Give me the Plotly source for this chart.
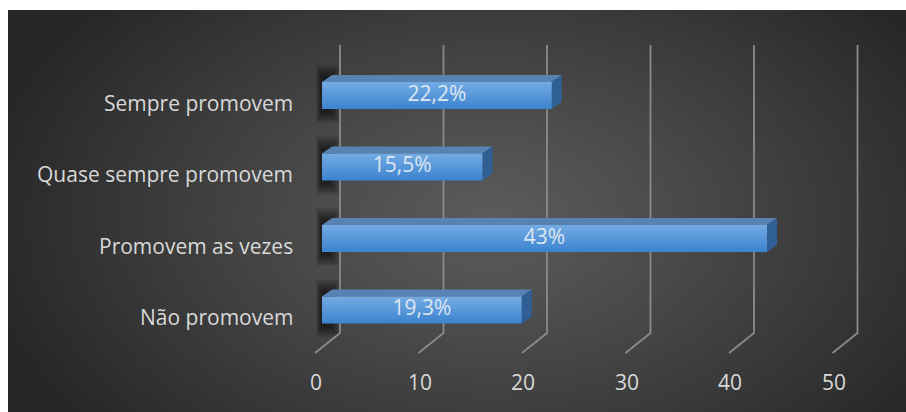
import base64
import struct
import zlib

import numpy as np
import plotly.graph_objects as go

# ---- data -----------------------------------------------------------------
categories = ["Não promovem", "Promovem as vezes", "Quase sempre promovem", "Sempre promovem"]
values = [19.3, 43, 15.5, 22.2]
value_labels = ["19,3%", "43%", "15,5%", "22,2%"]
tick_values = [0, 10, 20, 30, 40, 50]
tick_labels = ["0", "10", "20", "30", "40", "50"]

# ---- canvas geometry (pixels) ------------------------------------------------
W, H = 906, 412
BOX_X, BOX_Y = 8, 10             # top-left corner of the dark chart area
PX_PER_UNIT = 10.35              # horizontal scale of the value axis
ORIGIN_PX = 322                  # value 0 on the bars' front plane
ROW_PX = 71.5                    # distance between category rows
ROW0_PX = 310                    # centre of the first row

x_lo = -ORIGIN_PX / PX_PER_UNIT
x_hi = x_lo + W / PX_PER_UNIT
y_lo = -(H - ROW0_PX) / ROW_PX
y_hi = y_lo + H / ROW_PX


def ux(px):
    """horizontal pixel length -> value units"""
    return px / PX_PER_UNIT


def uy(px):
    """vertical pixel length (upwards) -> row units"""
    return px / ROW_PX


def yrow(py):
    """absolute pixel row -> y-axis coordinate"""
    return y_lo + (H - py) / ROW_PX


HALF = uy(13.5)          # half height of the bar front face
DEPTH_X, DEPTH_Y = ux(10), uy(7)

FONT = "Open Sans"
TEXT_COLOR = "#d9d9d9"
FONT_SIZE = 21


# ---- radial background ------------------------------------------------------
def gradient_png(w, h):
    yy, xx = np.mgrid[0:h, 0:w].astype(float)
    cx, cy = 0.537 * w, 0.52 * h
    d = np.sqrt(((xx - cx) / (0.58 * w)) ** 2 + ((yy - cy) / (0.82 * h)) ** 2)
    d = np.clip(d, 0, 1) ** 1.1
    inner = np.array([0x5B, 0x5B, 0x5B], float)
    outer = np.array([0x26, 0x26, 0x26], float)
    img = (inner + (outer - inner) * d[..., None]).round().astype(np.uint8)
    raw = b"".join(b"\x00" + img[r].tobytes() for r in range(h))

    def chunk(tag, data):
        body = tag + data
        return struct.pack(">I", len(data)) + body + struct.pack(">I", zlib.crc32(body) & 0xFFFFFFFF)

    png = (b"\x89PNG\r\n\x1a\n"
           + chunk(b"IHDR", struct.pack(">IIBBBBB", w, h, 8, 2, 0, 0, 0))
           + chunk(b"IDAT", zlib.compress(raw, 9))
           + chunk(b"IEND", b""))
    return "data:image/png;base64," + base64.b64encode(png).decode()


fig = go.Figure()
shapes = []

# soft shadows cast behind the bars on the wall (stacked translucent layers)
for i, v in enumerate(values):
    for k in range(12):
        grow = 12 - k
        shapes.append(dict(
            type="rect", xref="x", yref="y", layer="below",
            x0=-ux(grow * 0.5), x1=ux(8 + grow * 0.8),
            y0=i - HALF - uy(2 + grow * 1.0), y1=i + HALF + uy(4 + grow * 1.1),
            fillcolor="rgba(0,0,0,0.06)", line=dict(width=0),
        ))

# value gridlines: back wall and floor step
GRID_BACK = ux(18)
GRID_FRONT = -ux(7)
for t in tick_values:
    xb = t + GRID_BACK
    xf = t + GRID_FRONT
    shapes.append(dict(
        type="path", xref="x", yref="y", layer="below",
        path=f"M {xb},{yrow(45)} L {xb},{yrow(333)} L {xf},{yrow(353)}",
        line=dict(color="#8a8a8a", width=1.8),
    ))

# 3-D bars: top face, side face, front face
for i, v in enumerate(values):
    bot, top = i - HALF, i + HALF
    fig.add_trace(go.Scatter(
        x=[0, v, v + DEPTH_X, DEPTH_X, 0],
        y=[top, top, top + DEPTH_Y, top + DEPTH_Y, top],
        fill="toself", fillcolor="#5882b1", mode="lines",
        line=dict(width=0), hoverinfo="skip", showlegend=False,
    ))
    fig.add_trace(go.Scatter(
        x=[v, v + DEPTH_X, v + DEPTH_X, v, v],
        y=[bot, bot + DEPTH_Y, top + DEPTH_Y, top, bot],
        fill="toself", fillcolor="#2f5f94", mode="lines",
        line=dict(width=0), hoverinfo="skip", showlegend=False,
    ))
    fig.add_trace(go.Scatter(
        x=[0, v, v, 0, 0],
        y=[bot, bot, top, top, bot],
        fill="toself",
        fillgradient=dict(type="vertical",
                          colorscale=[[0, "#3b83cf"], [1, "#74abe4"]]),
        mode="lines", line=dict(width=0),
        name=categories[i], hoverinfo="name+x", showlegend=False,
    ))

# value labels centred on each bar
fig.add_trace(go.Scatter(
    x=[v / 2 for v in values], y=list(range(len(values))),
    mode="text", text=value_labels,
    textfont=dict(family=FONT, size=FONT_SIZE, color="#dde7f1"),
    hoverinfo="skip", showlegend=False,
))

annotations = []
for i, name in enumerate(categories):
    annotations.append(dict(
        x=-ux(27), y=i, xref="x", yref="y", text=name,
        xanchor="right", yanchor="middle", yshift=-7, showarrow=False,
        font=dict(family=FONT, size=FONT_SIZE, color=TEXT_COLOR),
    ))
for t, lab in zip(tick_values, tick_labels):
    annotations.append(dict(
        x=t - ux(6), y=yrow(382), xref="x", yref="y", text=lab,
        xanchor="center", yanchor="middle", showarrow=False,
        font=dict(family=FONT, size=FONT_SIZE, color=TEXT_COLOR),
    ))

fig.update_layout(
    width=W, height=H,
    margin=dict(l=0, r=0, t=0, b=0),
    paper_bgcolor="white", plot_bgcolor="rgba(0,0,0,0)",
    xaxis=dict(range=[x_lo, x_hi], domain=[0, 1], visible=False, fixedrange=True),
    yaxis=dict(range=[y_lo, y_hi], domain=[0, 1], visible=False, fixedrange=True),
    shapes=shapes,
    annotations=annotations,
    images=[dict(
        source=gradient_png(W - BOX_X, H - BOX_Y),
        xref="paper", yref="paper",
        x=BOX_X / W, y=1 - BOX_Y / H,
        sizex=(W - BOX_X) / W, sizey=(H - BOX_Y) / H,
        xanchor="left", yanchor="top", sizing="stretch", layer="below",
    )],
)

fig.write_html("out.html")
